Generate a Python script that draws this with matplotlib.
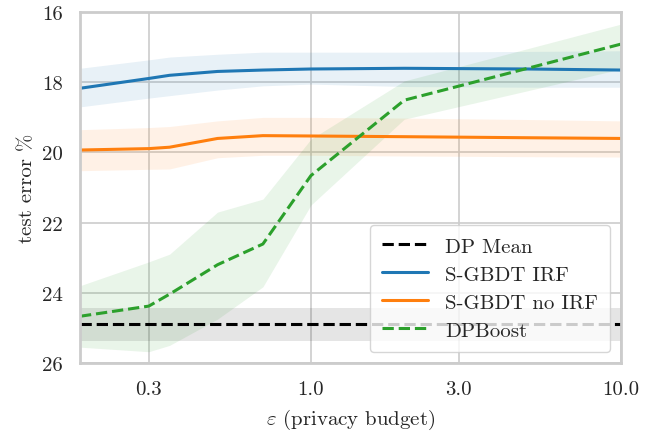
import numpy as np
import matplotlib
matplotlib.use('Agg')
import matplotlib.pyplot as plt
import seaborn as sns
from matplotlib.ticker import FixedLocator, FuncFormatter, NullLocator

# epsilon values (privacy budget)
eps = [0.18, 0.3, 0.35, 0.5, 0.7, 1.0, 2.0, 5.0, 10.0]

# S-GBDT IRF
irf_mean = [18.17, 17.89, 17.80, 17.69, 17.65, 17.62, 17.60, 17.62, 17.65]
irf_lo = [17.60, 17.36, 17.28, 17.20, 17.14, 17.14, 17.14, 17.12, 17.10]
irf_hi = [18.70, 18.45, 18.38, 18.22, 18.10, 18.05, 18.12, 18.14, 18.14]

# S-GBDT no IRF
noirf_mean = [19.93, 19.89, 19.85, 19.60, 19.52, 19.53, 19.55, 19.58, 19.60]
noirf_lo = [19.35, 19.29, 19.26, 19.10, 19.00, 19.00, 19.02, 19.06, 19.10]
noirf_hi = [20.52, 20.48, 20.47, 20.15, 20.08, 20.08, 20.10, 20.12, 20.13]

# DPBoost
dpb_mean = [24.67, 24.38, 24.04, 23.20, 22.61, 20.66, 18.51, 17.60, 16.91]
dpb_lo = [23.80, 23.12, 22.90, 21.70, 21.33, 19.62, 17.96, 17.04, 16.34]
dpb_hi = [25.55, 25.68, 25.50, 24.75, 23.83, 21.50, 19.05, 18.24, 17.62]

# DP Mean baseline
dpmean = 24.89
dpmean_lo = 24.44
dpmean_hi = 25.37

xticks = [0.3, 1.0, 3.0, 10.0]
yticks = [16, 18, 20, 22, 24, 26]

sns.set_style('whitegrid')
plt.rcParams['font.family'] = 'serif'
plt.rcParams['font.serif'] = ['cmr10', 'DejaVu Serif']
plt.rcParams['mathtext.fontset'] = 'cm'
plt.rcParams['axes.formatter.use_mathtext'] = True

fig = plt.figure(figsize=(6.53, 4.39), dpi=100)
ax = fig.add_axes([0.1225, 0.171, 0.8285, 0.799])

x = np.array(eps)
ax.axhspan(dpmean_lo, dpmean_hi, color='black', alpha=0.1, lw=0)
ax.axhline(dpmean, color='black', ls='--', lw=2.2, label='DP Mean')

ax.fill_between(x, irf_lo, irf_hi, color='tab:blue', alpha=0.1, lw=0)
ax.plot(x, irf_mean, color='tab:blue', lw=2.2, label='S-GBDT IRF')

ax.fill_between(x, noirf_lo, noirf_hi, color='tab:orange', alpha=0.1, lw=0)
ax.plot(x, noirf_mean, color='tab:orange', lw=2.2, label='S-GBDT no IRF')

ax.fill_between(x, dpb_lo, dpb_hi, color='tab:green', alpha=0.1, lw=0)
ax.plot(x, dpb_mean, color='tab:green', ls='--', lw=2.2, label='DPBoost')

ax.set_xscale('log')
ax.set_xlim(eps[0], eps[-1])
ax.xaxis.set_major_locator(FixedLocator(xticks))
ax.xaxis.set_minor_locator(NullLocator())
ax.xaxis.set_major_formatter(FuncFormatter(lambda v, p: '%.1f' % v))
ax.set_ylim(26, 16)
ax.set_yticks(yticks)
ax.yaxis.set_major_formatter(FuncFormatter(lambda v, p: '%d' % v))
ax.tick_params(labelsize=15, pad=9)

ax.grid(True, color='#cccccc', lw=1.2)
for s in ax.spines.values():
    s.set_color('#cccccc')
    s.set_linewidth(2)

ax.set_xlabel(r'$\varepsilon$ (privacy budget)', fontsize=15, labelpad=6)
ax.set_ylabel('test error %', fontsize=15, labelpad=4)

ax.legend(loc='lower right', fontsize=15, handlelength=2.2,
          borderpad=0.6, labelspacing=0.45, framealpha=0.8,
          borderaxespad=0, bbox_to_anchor=(0.98, 0.031))

plt.savefig('out.png', dpi=100)
